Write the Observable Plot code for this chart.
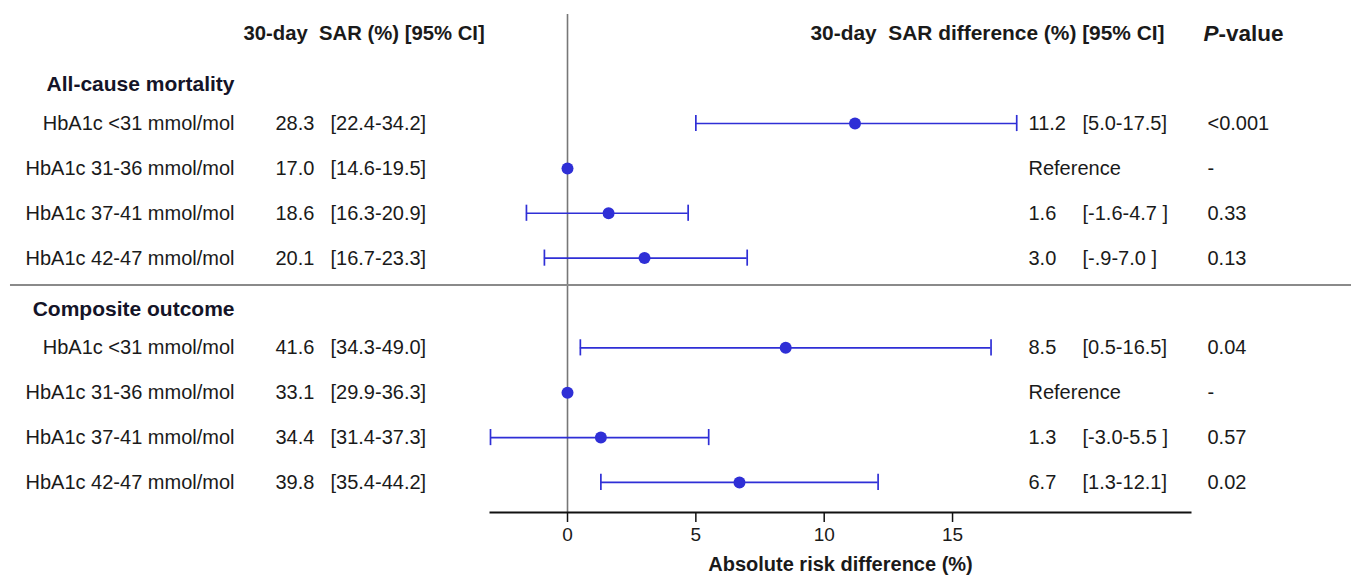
<!DOCTYPE html>
<html>
<head>
<meta charset="utf-8">
<script src="https://cdn.jsdelivr.net/npm/d3@7"></script>
<script src="https://cdn.jsdelivr.net/npm/@observablehq/plot@0.6"></script>
<style>
  html, body { margin: 0; padding: 0; background: #fff; }
  #chart svg text { white-space: pre; }
</style>
</head>
<body>
<div id="chart"></div>
<script>
// ---------- data ----------
const groups = ["All-cause mortality", "Composite outcome"];
const groupFirstRow = [0, 5];
const labels = [
  "HbA1c <31 mmol/mol", "HbA1c 31-36 mmol/mol", "HbA1c 37-41 mmol/mol", "HbA1c 42-47 mmol/mol",
  "HbA1c <31 mmol/mol", "HbA1c 31-36 mmol/mol", "HbA1c 37-41 mmol/mol", "HbA1c 42-47 mmol/mol"
];
const rowIndex = [0, 1, 2, 3, 5, 6, 7, 8];
const sar   = [28.3, 17.0, 18.6, 20.1, 41.6, 33.1, 34.4, 39.8];
const sarLo = [22.4, 14.6, 16.3, 16.7, 34.3, 29.9, 31.4, 35.4];
const sarHi = [34.2, 19.5, 20.9, 23.3, 49.0, 36.3, 37.3, 44.2];
const isReference = [false, true, false, false, false, true, false, false];
const diff   = [11.2, 0, 1.6, 3.0, 8.5, 0, 1.3, 6.7];
const diffLo = [5.0, null, -1.6, -0.9, 0.5, null, -3.0, 1.3];
const diffHi = [17.5, null, 4.7, 7.0, 16.5, null, 5.5, 12.1];
const diffCIText = ["[5.0-17.5]", "", "[-1.6-4.7 ]", "[-.9-7.0 ]", "[0.5-16.5]", "", "[-3.0-5.5 ]", "[1.3-12.1]"];
const pValues = ["<0.001", "-", "0.33", "0.13", "0.04", "-", "0.57", "0.02"];
const xTicks = [0, 5, 10, 15];
const xDomain = [-3, 24.27];
const sarHeader = "30-day  SAR (%) [95% CI]";
const diffHeader = "30-day  SAR difference (%) [95% CI]";
const xLabel = "Absolute risk difference (%)";

// ---------- table ----------
const rows = labels.map((label, i) => ({
  label,
  row: rowIndex[i],
  sarText: sar[i].toFixed(1),
  sarCI: `[${sarLo[i].toFixed(1)}-${sarHi[i].toFixed(1)}]`,
  diff: diff[i],
  lo: diffLo[i],
  hi: diffHi[i],
  diffText: isReference[i] ? "Reference" : diff[i].toFixed(1),
  diffCI: diffCIText[i],
  p: pValues[i]
}));
const bars = rows.filter(d => d.lo != null);
const groupRows = groups.map((g, i) => ({g, row: groupFirstRow[i]}));

// ---------- layout ----------
const W = 1351, H = 581;
const mL = 490, mR = 161, mT = 14, mB = 69;
const colX = {label: 234, sar: 275, sarCI: 330, diff: 1028, diffCI: 1082, p: 1207};
const dxOf = px => px - mL;
const blue = "#2f2fd6";
const ink = "#1a1a1a";
const font = "'Liberation Sans', Arial, Helvetica, sans-serif";
const capHalf = 0.18;
const headDy = 11;

const plot = Plot.plot({
  width: W,
  height: H,
  marginLeft: mL,
  marginRight: mR,
  marginTop: mT,
  marginBottom: mB,
  style: {fontFamily: font, fontSize: "20px", color: ink, background: "#fff"},
  x: {domain: xDomain, ticks: xTicks},
  y: {domain: [-2.43, 8.67], reverse: true, axis: null},
  marks: [
    // vertical reference line at 0
    Plot.ruleX([0], {stroke: "#777", strokeWidth: 1.6}),
    // separator between groups
    Plot.ruleY([3.6], {x1: -21.7, x2: 30.6, stroke: "#8a8a8a", strokeWidth: 2}),
    // bottom axis line
    Plot.frame({anchor: "bottom", stroke: "#111", strokeWidth: 2}),
    Plot.axisX({ticks: xTicks, tickSize: 10, tickPadding: 5, fontSize: 19, label: null, stroke: "#111", strokeWidth: 1.5}),
    Plot.text([xLabel], {frameAnchor: "bottom", dy: 58, fontWeight: "bold", fontSize: 20, fill: ink}),
    // error bars
    Plot.ruleY(bars, {y: "row", x1: "lo", x2: "hi", stroke: blue, strokeWidth: 1.7}),
    Plot.ruleX(bars, {x: "lo", y1: d => d.row - capHalf, y2: d => d.row + capHalf, stroke: blue, strokeWidth: 1.7}),
    Plot.ruleX(bars, {x: "hi", y1: d => d.row - capHalf, y2: d => d.row + capHalf, stroke: blue, strokeWidth: 1.7}),
    Plot.dot(rows, {x: "diff", y: "row", r: 6, fill: blue, stroke: "none"}),
    // column headers
    Plot.text([sarHeader], {frameAnchor: "top-left", dx: dxOf(243), dy: headDy, textAnchor: "start", fontWeight: "bold", fontSize: 20.3, fill: ink}),
    Plot.text([diffHeader], {frameAnchor: "top-left", dx: dxOf(810), dy: headDy, textAnchor: "start", fontWeight: "bold", fontSize: 20.9, fill: ink}),
    Plot.text(["P"], {frameAnchor: "top-left", dx: dxOf(1203), dy: headDy, textAnchor: "start", fontWeight: "bold", fontStyle: "italic", fontSize: 22.5, fill: ink}),
    Plot.text(["-value"], {frameAnchor: "top-left", dx: dxOf(1218), dy: headDy, textAnchor: "start", fontWeight: "bold", fontSize: 22.5, fill: ink}),
    // group headers
    Plot.text(groupRows, {y: "row", text: "g", frameAnchor: "left", dx: dxOf(colX.label), dy: -39, textAnchor: "end", fontWeight: "bold", fontSize: 21, fill: "#141428"}),
    // row labels and value columns
    Plot.text(rows, {y: "row", text: "label", frameAnchor: "left", dx: dxOf(colX.label), textAnchor: "end", fontSize: 20, fill: ink}),
    Plot.text(rows, {y: "row", text: "sarText", frameAnchor: "left", dx: dxOf(colX.sar), textAnchor: "start", fontSize: 20, fill: ink}),
    Plot.text(rows, {y: "row", text: "sarCI", frameAnchor: "left", dx: dxOf(colX.sarCI), textAnchor: "start", fontSize: 20, fill: ink}),
    Plot.text(rows, {y: "row", text: "diffText", frameAnchor: "left", dx: dxOf(colX.diff), textAnchor: "start", fontSize: 20, fill: ink}),
    Plot.text(rows, {y: "row", text: "diffCI", frameAnchor: "left", dx: dxOf(colX.diffCI), textAnchor: "start", fontSize: 20, fill: ink}),
    Plot.text(rows, {y: "row", text: "p", frameAnchor: "left", dx: dxOf(colX.p), textAnchor: "start", fontSize: 20, fill: ink})
  ]
});
document.getElementById("chart").appendChild(plot);
</script>
</body>
</html>
